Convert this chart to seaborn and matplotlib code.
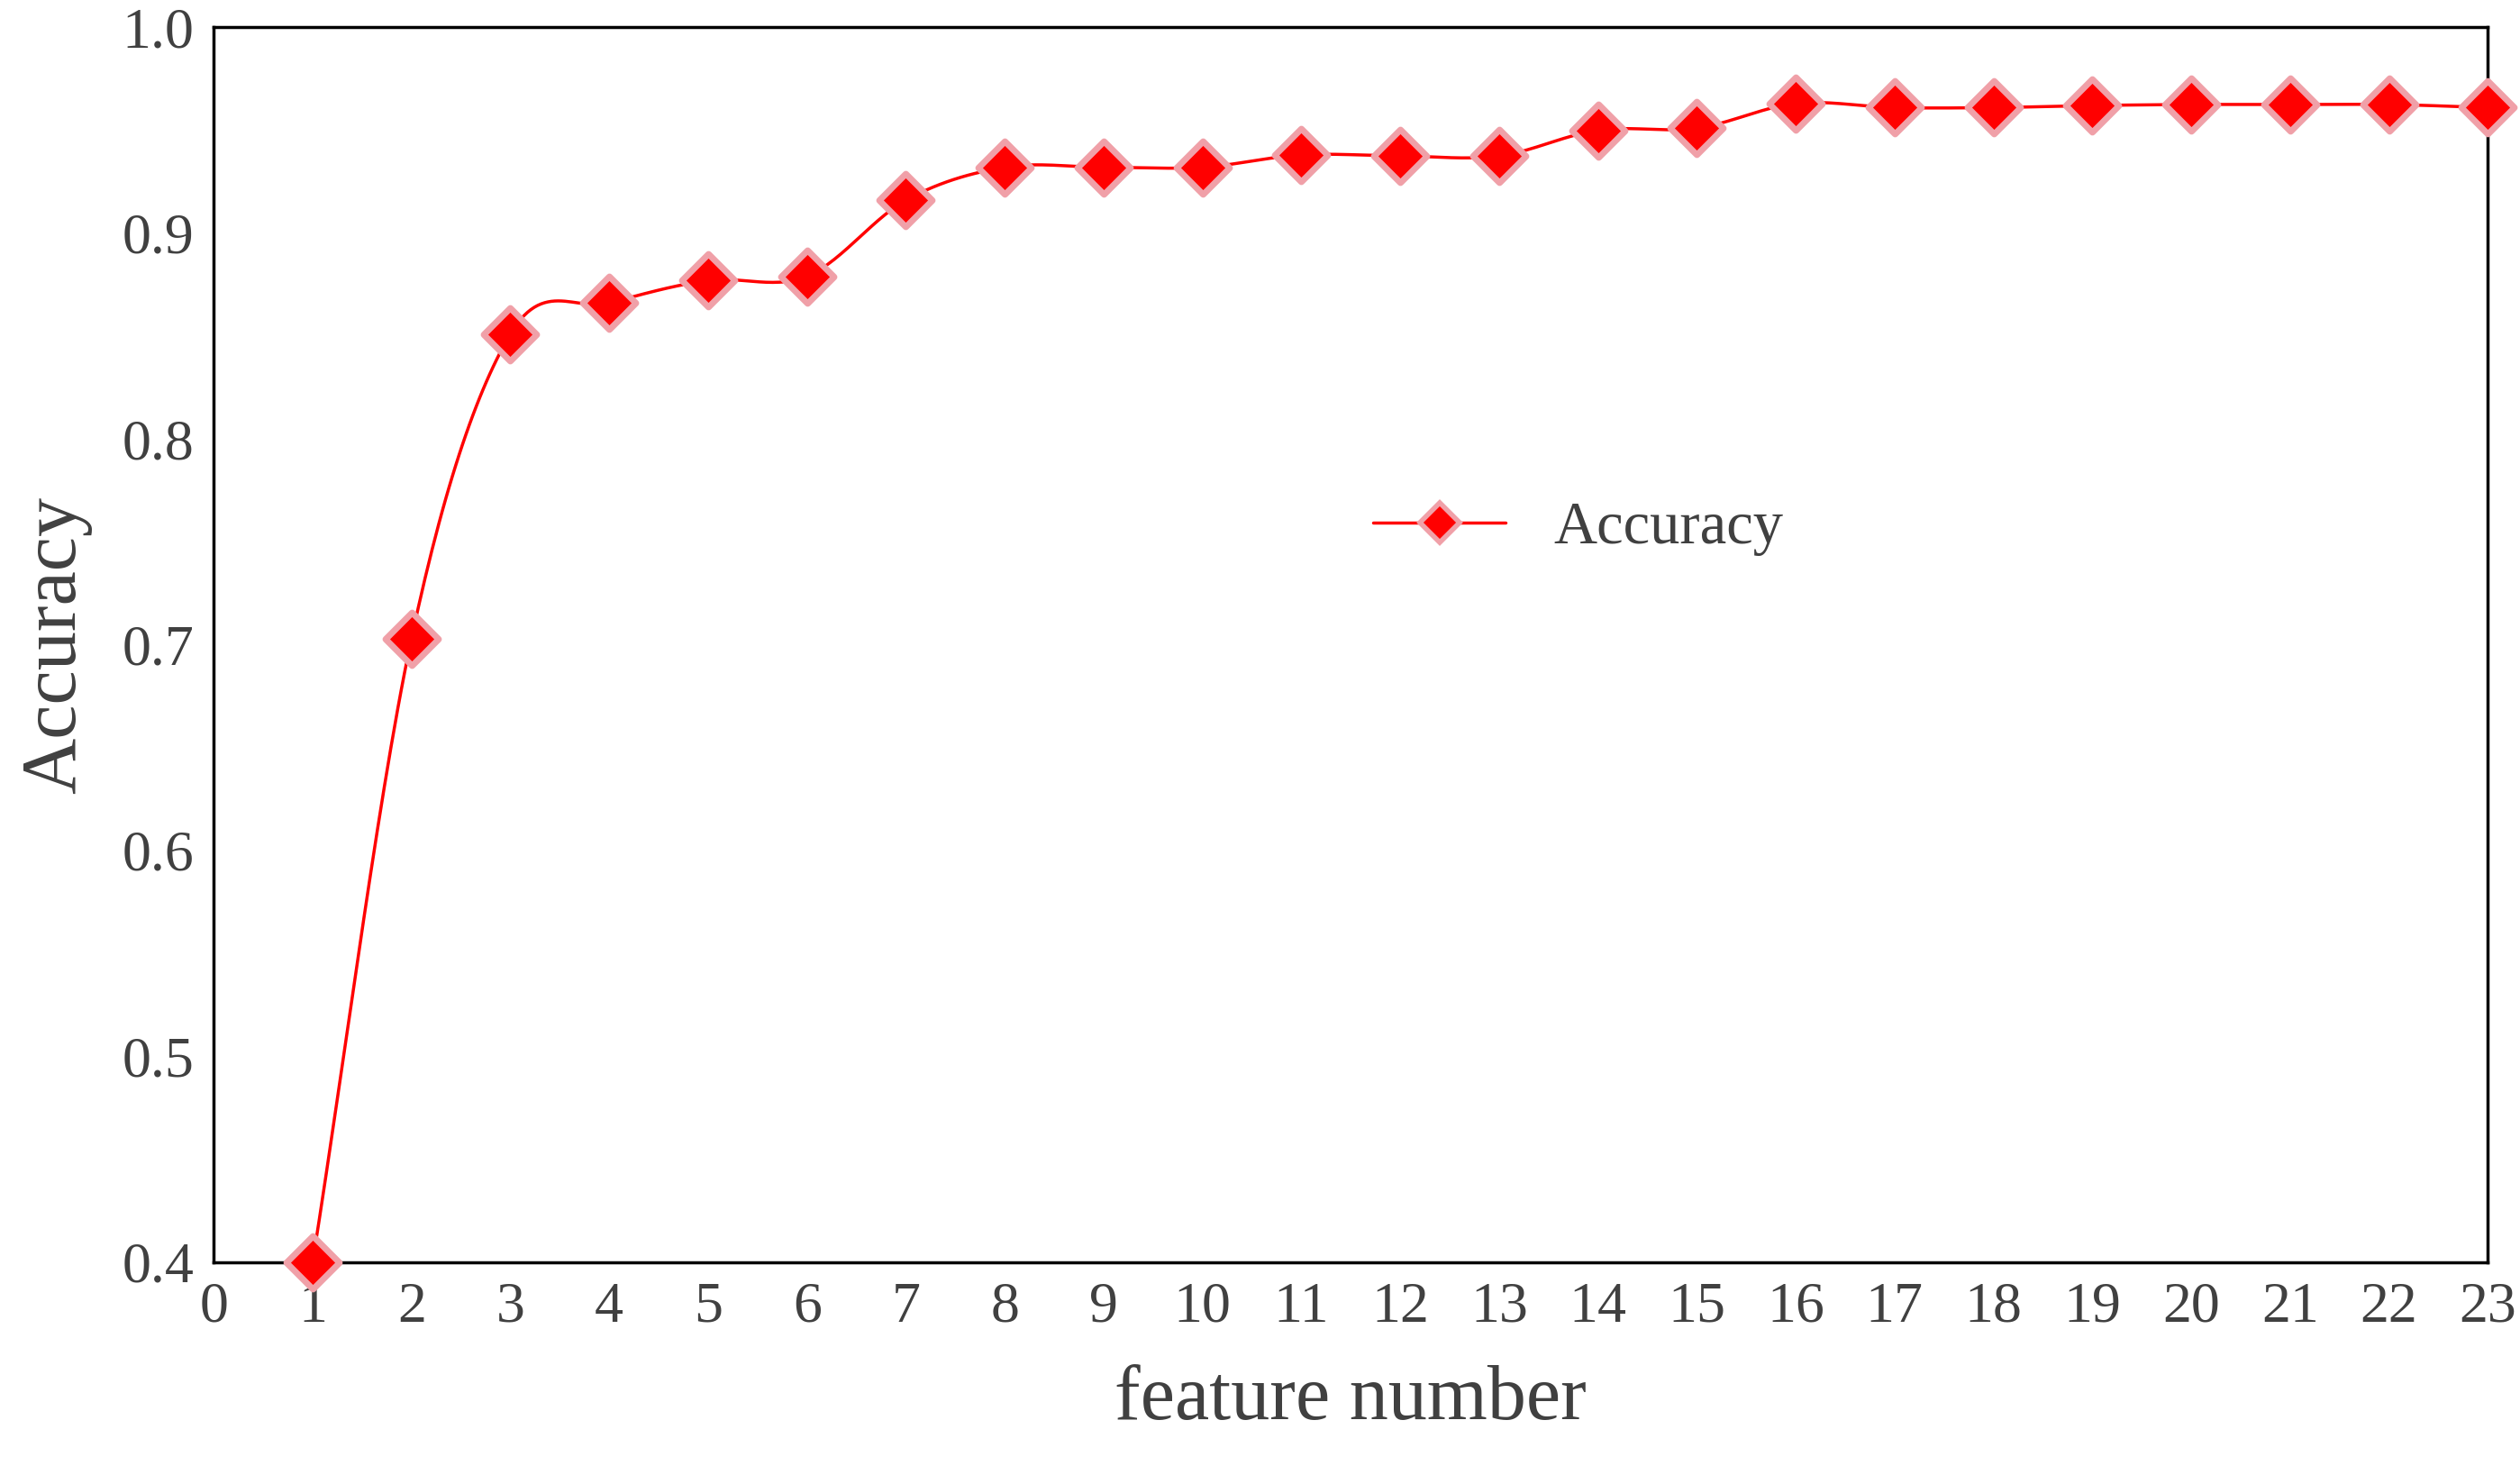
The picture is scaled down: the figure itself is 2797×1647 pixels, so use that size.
import numpy as np
import pandas as pd
import seaborn as sns
import matplotlib
matplotlib.use("Agg")
import matplotlib.pyplot as plt
from matplotlib.lines import Line2D

features = list(range(1, 24))
accuracy = [0.400, 0.703, 0.851, 0.866, 0.877, 0.879, 0.916, 0.932, 0.932, 0.932,
            0.938, 0.9375, 0.9375, 0.950, 0.951, 0.963, 0.961, 0.961, 0.962, 0.9625,
            0.9625, 0.9625, 0.961]

sns.set_style("white")
plt.rcParams['font.family'] = ['Liberation Serif', 'DejaVu Serif']

df = pd.DataFrame({"feature number": features, "Accuracy": accuracy})

fig = plt.figure(figsize=(27.97, 16.47), dpi=100)
ax = fig.add_axes([133/1568, 1 - 785/923, (1548-133)/1568, (785-17)/923])

# smooth display curve (Catmull-Rom through data points)
x = np.array(features, float); y = np.array(accuracy)
px = np.concatenate([[2*x[0]-x[1]], x, [2*x[-1]-x[-2]]])
py = np.concatenate([[2*y[0]-y[1]], y, [2*y[-1]-y[-2]]])
sx, sy = [], []
t = np.linspace(0, 1, 30)
for i in range(1, len(px)-2):
    for arr, out in ((px, sx), (py, sy)):
        p0, p1, p2, p3 = arr[i-1], arr[i], arr[i+1], arr[i+2]
        out.extend(0.5*((2*p1) + (-p0+p2)*t + (2*p0-5*p1+4*p2-p3)*t**2 + (-p0+3*p1-3*p2+p3)*t**3))
ax.plot(sx, sy, color='#ff0000', lw=2.5, zorder=2)

sns.scatterplot(data=df, x="feature number", y="Accuracy", ax=ax, marker='D', s=900,
                color='#ff0000', edgecolor='#f0a0a8', linewidth=5, zorder=3, legend=False,
                clip_on=False)

ax.set_xlim(0, 23)
ax.set_ylim(0.4, 1.0)
ax.set_xticks(range(0, 24))
ax.set_yticks([0.4, 0.5, 0.6, 0.7, 0.8, 0.9, 1.0])
ax.set_yticklabels([f"{v:.1f}" for v in [0.4, 0.5, 0.6, 0.7, 0.8, 0.9, 1.0]])
ax.tick_params(axis='both', labelsize=46, colors='#404040', length=0, pad=16)
ax.set_xlabel("feature number", fontsize=62, color='#404040', labelpad=24)
ax.set_ylabel("Accuracy", fontsize=62, color='#404040', labelpad=24)
for s in ax.spines.values():
    s.set_visible(True); s.set_color('black'); s.set_linewidth(2.5)

h = Line2D([], [], color='#ff0000', lw=2.5, marker='D', markersize=22,
           markerfacecolor='#ff0000', markeredgecolor='#f0a0a8', markeredgewidth=4)
ax.legend([h], ["Accuracy"], loc='center', bbox_to_anchor=(0.6, 0.594), frameon=False,
          fontsize=48, handlelength=2.2, labelcolor='#404040')

fig.savefig("out.png", dpi=100)
